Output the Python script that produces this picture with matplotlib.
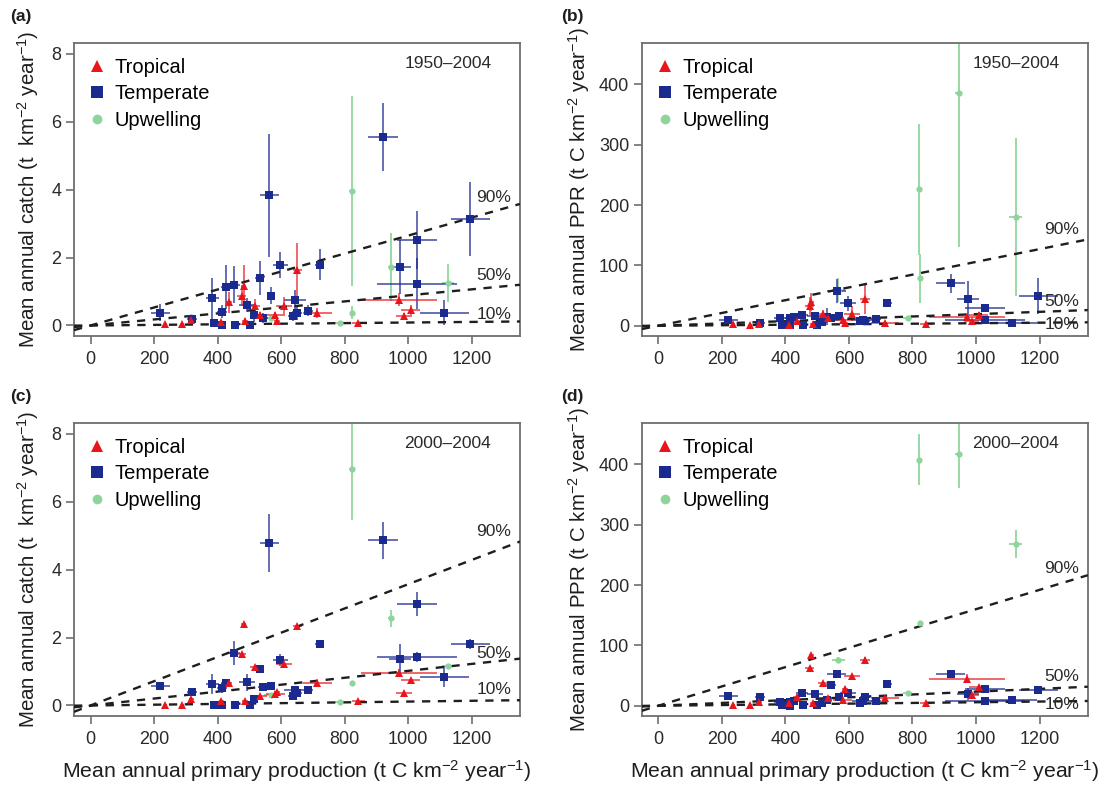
import matplotlib
matplotlib.use('Agg')
import matplotlib.pyplot as plt
from matplotlib.lines import Line2D

plt.rcParams['font.family'] = ['Liberation Sans', 'DejaVu Sans']
plt.rcParams['mathtext.default'] = 'regular'

# primary production (shared by all four panels), t C km-2 yr-1
pp_temp = [220, 320, 383, 390, 413, 414, 427, 452, 454, 493, 501, 516, 532, 543,
           562, 568, 598, 636, 644, 651, 686, 721, 920, 975, 1028, 1028, 1114, 1196]
pp_temp_err = [30, 15, 20, 8, 8, 15, 15, 20, 8, 25, 8, 15, 15, 15,
               30, 10, 25, 15, 35, 15, 15, 15, 47, 35, 62, 125, 77, 62]
pp_trop = [236, 289, 317, 412, 435, 476, 482, 487, 517, 534, 581, 587, 609, 651,
           714, 843, 971, 986, 1008]
pp_trop_err = [5, 5, 8, 8, 10, 15, 8, 10, 15, 20, 30, 10, 25, 15, 45, 20, 120, 25, 30]
pp_upw = [567, 785, 822, 824, 945, 1125]
pp_upw_err = [20, 15, 8, 8, 10, 20]

# catch 1950-2004
catch_temp_a = [0.38, 0.19, 0.80, 0.07, 0.02, 0.41, 1.13, 1.20, 0.02, 0.61, 0.02, 0.31, 1.39, 0.22,
                3.83, 0.87, 1.77, 0.28, 0.74, 0.36, 0.44, 1.79, 5.54, 1.73, 2.52, 1.23, 0.38, 3.14]
catch_temp_a_err = [0.25, 0.1, 0.6, 0.05, 0.05, 0.2, 0.65, 0.55, 0.05, 0.2, 0.05, 0.2, 0.5, 0.15,
                    1.8, 0.25, 0.38, 0.15, 0.3, 0.2, 0.15, 0.45, 1.0, 0.8, 0.85, 0.75, 0.38, 1.1]
catch_trop_a = [0.05, 0.05, 0.15, 0.10, 0.68, 0.87, 1.17, 0.12, 0.58, 0.31, 0.31, 0.14, 0.58, 1.62,
                0.36, 0.07, 0.76, 0.27, 0.46]
catch_trop_a_err = [0.03, 0.03, 0.05, 0.05, 0.3, 0.3, 0.6, 0.1, 0.2, 0.1, 0.1, 0.1, 0.25, 0.8,
                    0.15, 0.03, 0.2, 0.1, 0.15]
catch_upw_a = [0.22, 0.07, 3.96, 0.38, 1.71, 1.25]
catch_upw_a_err = [0.1, 0.05, 2.8, 0.2, 1.0, 0.55]

# PPR 1950-2004
ppr_temp_b = [9.4, 5, 12, 1, 1, 12, 14, 17.7, 1, 16, 1, 6.6, 15, 12,
              58, 16, 37, 7.7, 9.4, 8.3, 10.5, 37, 70, 43.6, 29, 9.4, 5, 49]
ppr_temp_b_err = [3, 2, 4, 1, 1, 3, 4, 4, 1, 4, 1, 3, 14, 4,
                  20, 4, 12, 3, 3, 3, 3, 4, 15, 30, 6, 4, 3, 30]
ppr_trop_b = [2.8, 1, 3, 2, 8, 33, 40, 3, 20, 12, 10, 5, 20, 44, 5, 2.8, 15, 8, 17]
ppr_trop_b_err = [1, 1, 1, 1, 3, 15, 15, 2, 6, 4, 3, 2, 12, 24, 2, 1, 6, 3, 5]
ppr_upw_b = [59, 12, 226, 78.5, 385, 180]
ppr_upw_b_err = [20, 3, 108, 40, 255, 131]

# catch 2000-2004
catch_temp_c = [0.58, 0.41, 0.64, 0.02, 0.02, 0.51, 0.66, 1.54, 0.02, 0.68, 0.02, 0.19, 1.07, 0.54,
                4.78, 0.58, 1.34, 0.28, 0.46, 0.36, 0.46, 1.81, 4.86, 1.36, 2.99, 1.44, 0.85, 1.81]
catch_temp_c_err = [0.08, 0.08, 0.3, 0.04, 0.04, 0.15, 0.12, 0.35, 0.04, 0.25, 0.04, 0.1, 0.1, 0.08,
                    0.85, 0.08, 0.18, 0.1, 0.12, 0.1, 0.08, 0.08, 0.55, 0.45, 0.35, 0.15, 0.3, 0.15]
catch_trop_c = [0.02, 0.02, 0.19, 0.12, 0.66, 1.52, 2.39, 0.12, 1.13, 0.27, 0.34, 0.41, 1.23, 2.33,
                0.66, 0.12, 0.97, 0.36, 0.76]
catch_trop_c_err = [0.02, 0.02, 0.04, 0.04, 0.05, 0.06, 0.05, 0.04, 0.06, 0.05, 0.05, 0.05, 0.06, 0.08,
                    0.05, 0.03, 0.1, 0.05, 0.06]
catch_upw_c = [0.31, 0.09, 6.96, 0.66, 2.57, 1.17]
catch_upw_c_err = [0.05, 0.03, 1.5, 0.05, 0.25, 0.05]

# PPR 2000-2004
ppr_temp_d = [16, 13.8, 6.6, 1, 0, 6.6, 8, 21.5, 1, 20, 1, 5, 10, 34,
              52, 15, 21.5, 5, 8, 13.8, 8, 36, 52.5, 19, 27, 7.7, 9.4, 26]
ppr_temp_d_err = [4, 3, 3, 1, 1, 2, 2, 4, 1, 3, 1, 2, 3, 4,
                  5, 3, 4, 2, 2, 3, 2, 3, 5, 10, 5, 3, 3, 4]
ppr_trop_d = [1, 1, 6.6, 5, 15, 62, 84, 4, 37, 12, 10, 28, 49, 76, 12, 4, 45, 18, 31]
ppr_trop_d_err = [1, 1, 1, 1, 2, 4, 4, 1, 3, 2, 2, 4, 4, 4, 2, 1, 8, 3, 4]
ppr_upw_d = [76, 21.5, 408, 136.5, 417, 268]
ppr_upw_d_err = [4, 3, 42, 4, 57, 23]

# slopes of the 10/50/90 % reference lines
slopes_a = [0.000087, 0.000887, 0.002648]
slopes_b = [0.0042, 0.0192, 0.1058]
slopes_c = [0.000115, 0.00102, 0.003572]
slopes_d = [0.0058, 0.0233, 0.160]
pct_labels = ['10%', '50%', '90%']

RED = '#e8161c'
BLUE = '#1b2a8e'
GREEN = '#8ed49b'
FRAME = '#6e6e6e'

W, H = 1105, 787
XLIM = (-52, 1352)


def draw_panel(ax, temp, temp_err, trop, trop_err, upw, upw_err,
               slopes, label_y, ylim, yticks, period):
    ax.set_xlim(XLIM)
    ax.set_ylim(ylim)

    # error bars first, points on top
    ax.errorbar(pp_upw, upw, xerr=pp_upw_err, yerr=upw_err, fmt='none',
                ecolor=GREEN, elinewidth=1.4, alpha=0.9, zorder=2)
    ax.errorbar(pp_temp, temp, xerr=pp_temp_err, yerr=temp_err, fmt='none',
                ecolor=BLUE, elinewidth=1.4, alpha=0.68, zorder=2)
    ax.errorbar(pp_trop, trop, xerr=pp_trop_err, yerr=trop_err, fmt='none',
                ecolor=RED, elinewidth=1.4, alpha=0.65, zorder=2)

    for s in slopes:
        ax.plot(XLIM, [s * XLIM[0], s * XLIM[1]], color='#1e1e1e', lw=1.7,
                linestyle=(0, (3.5, 3.2)), zorder=3)
    for txt, yl in zip(pct_labels, label_y):
        ax.text(1270, yl, txt, fontsize=12.5, color='#2a2a2a', ha='center', va='center', zorder=6)

    ax.plot(pp_upw, upw, 'o', color=GREEN, ms=4.5, mew=0, zorder=4)
    ax.plot(pp_temp, temp, 's', color=BLUE, ms=5.8, mew=0, zorder=5)
    ax.plot(pp_trop, trop, '^', color=RED, ms=6.2, mew=0, zorder=5)

    ax.set_xticks(range(0, 1201, 200))
    ax.set_yticks(yticks)
    for sp in ax.spines.values():
        sp.set_color(FRAME)
        sp.set_linewidth(1.3)
    ax.tick_params(axis='both', colors=FRAME, labelcolor='#2a2a2a', width=1.2,
                   length=6, labelsize=13)
    ax.tick_params(axis='x', pad=5)
    ax.tick_params(axis='y', pad=3)

    ax.text(1125, 0.93, period, transform=ax.get_xaxis_transform(), fontsize=12.5,
            color='#2a2a2a', ha='center', va='center')

    handles = [Line2D([], [], marker='^', ls='none', color=RED, ms=9, mew=0),
               Line2D([], [], marker='s', ls='none', color=BLUE, ms=8, mew=0),
               Line2D([], [], marker='o', ls='none', color=GREEN, ms=7, mew=0)]
    ax.legend(handles, ['Tropical', 'Temperate', 'Upwelling'], loc='upper left',
              frameon=False, fontsize=14.5, handlelength=0.8, handletextpad=0.45,
              labelspacing=0.38, borderaxespad=0.55, borderpad=0.2)


fig = plt.figure(figsize=(W / 100, H / 100), dpi=100)
ax_w, ax_h = 446 / W, 293.3 / H
ax_a = fig.add_axes([74 / W, 1 - 336 / H, ax_w, ax_h])
ax_b = fig.add_axes([641.8 / W, 1 - 336 / H, ax_w, ax_h])
ax_c = fig.add_axes([74 / W, 1 - 716 / H, ax_w, ax_h])
ax_d = fig.add_axes([641.8 / W, 1 - 716 / H, ax_w, ax_h])

catch_ylim = (-0.31, 8.33)
ppr_ylim = (-17, 469)

draw_panel(ax_a, catch_temp_a, catch_temp_a_err, catch_trop_a, catch_trop_a_err,
           catch_upw_a, catch_upw_a_err, slopes_a, [0.31, 1.46, 3.78],
           catch_ylim, range(0, 9, 2), '1950\u20132004')
draw_panel(ax_b, ppr_temp_b, ppr_temp_b_err, ppr_trop_b, ppr_trop_b_err,
           ppr_upw_b, ppr_upw_b_err, slopes_b, [2, 40, 159],
           ppr_ylim, range(0, 401, 100), '1950\u20132004')
draw_panel(ax_c, catch_temp_c, catch_temp_c_err, catch_trop_c, catch_trop_c_err,
           catch_upw_c, catch_upw_c_err, slopes_c, [0.46, 1.53, 5.12],
           catch_ylim, range(0, 9, 2), '2000\u20132004')
draw_panel(ax_d, ppr_temp_d, ppr_temp_d_err, ppr_trop_d, ppr_trop_d_err,
           ppr_upw_d, ppr_upw_d_err, slopes_d, [2, 49, 228],
           ppr_ylim, range(0, 401, 100), '2000\u20132004')

catch_label = 'Mean annual catch (t  km$^{-2}$ year$^{-1}$)'
ppr_label = 'Mean annual PPR (t C km$^{-2}$ year$^{-1}$)'
pp_label = 'Mean annual primary production (t C km$^{-2}$ year$^{-1}$)'
for ax in (ax_a, ax_c):
    ax.set_ylabel(catch_label, fontsize=14.8, color='#1e1e1e')
    ax.yaxis.set_label_coords(-0.075, 0.5)
for ax in (ax_b, ax_d):
    ax.set_ylabel(ppr_label, fontsize=14.8, color='#1e1e1e')
    ax.yaxis.set_label_coords(-0.112, 0.5)
for ax in (ax_c, ax_d):
    ax.set_xlabel(pp_label, fontsize=15.3, color='#1e1e1e')
    ax.xaxis.set_label_coords(0.5, -0.145)

for lab, x, y in [('(a)', 10, 16), ('(b)', 561, 16), ('(c)', 10, 396), ('(d)', 561, 396)]:
    fig.text(x / W, 1 - y / H, lab, fontsize=12.5, fontweight='bold', color='#1e1e1e',
             ha='left', va='center')

fig.savefig('out.png', dpi=100)
